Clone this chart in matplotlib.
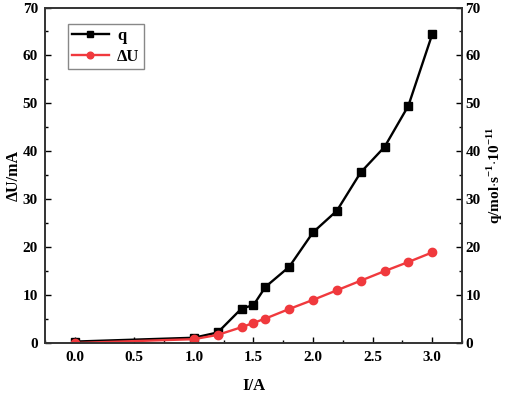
import matplotlib
matplotlib.use("Agg")
import matplotlib.pyplot as plt
from matplotlib.ticker import MultipleLocator, FormatStrFormatter

plt.rcParams['font.family'] = ['Liberation Serif', 'DejaVu Serif']
plt.rcParams['font.weight'] = 'bold'
plt.rcParams['mathtext.fontset'] = 'custom'
plt.rcParams['mathtext.rm'] = 'Liberation Serif:bold'
plt.rcParams['mathtext.bf'] = 'Liberation Serif:bold'

current = [0.0, 1.0, 1.2, 1.4, 1.5, 1.6, 1.8, 2.0, 2.2, 2.4, 2.6, 2.8, 3.0]
q_vals = [0.3, 1.1, 2.2, 7.2, 7.9, 11.7, 15.9, 23.1, 27.6, 35.6, 40.9, 49.5, 64.4]
du_vals = [0.0, 0.8, 1.7, 3.3, 4.2, 5.1, 7.1, 9.0, 11.0, 13.0, 15.0, 16.9, 18.9]

fig = plt.figure(figsize=(5.12, 3.93), dpi=100)
ax = fig.add_axes([0.0879, 0.1272, 0.8144, 0.8537])

ax.plot(current, q_vals, color='black', marker='s', markersize=5.5, linewidth=1.7, label='q')
ax.plot(current, du_vals, color='#F0393D', marker='o', markersize=6, linewidth=1.7, label='ΔU')

ax.set_xlim(-0.25, 3.25)
ax.set_ylim(0, 70)
ax.xaxis.set_major_locator(MultipleLocator(0.5))
ax.xaxis.set_minor_locator(MultipleLocator(0.25))
ax.yaxis.set_major_locator(MultipleLocator(10))
ax.yaxis.set_minor_locator(MultipleLocator(5))
ax.xaxis.set_major_formatter(FormatStrFormatter('%.1f'))
ax.tick_params(which='both', direction='in', labelsize=11)
ax.tick_params(which='major', length=4, width=1)
ax.tick_params(which='minor', length=2.5, width=1)
ax.tick_params(axis='x', which='major', pad=6)
ax.tick_params(axis='y', which='major', pad=5)
for s in ax.spines.values():
    s.set_linewidth(1.2)
    s.set_color('#333333')

ax.set_xlabel('I/A', fontsize=12, fontweight='bold', labelpad=10)
ax.set_ylabel('ΔU/mA', fontsize=11.5, fontweight='bold', labelpad=1)

ax2 = ax.twinx()
ax2.set_ylim(0, 70)
ax2.yaxis.set_major_locator(MultipleLocator(10))
ax2.yaxis.set_minor_locator(MultipleLocator(5))
ax2.tick_params(which='both', direction='in', labelsize=11)
ax2.tick_params(which='major', length=4, width=1, pad=2.5)
ax2.tick_params(which='minor', length=2.5, width=1)
for s in ax2.spines.values():
    s.set_linewidth(1.2)
    s.set_color('#333333')
ax2.set_ylabel(r'q/mol$\cdot$s$^{-1}$$\cdot$10$^{-11}$', fontsize=11, fontweight='bold',
               rotation=90, labelpad=3)

for lab in ax.get_xticklabels() + ax.get_yticklabels() + ax2.get_yticklabels():
    lab.set_fontweight('bold')

leg = ax.legend(loc='upper left', bbox_to_anchor=(0.055, 0.951), borderaxespad=0,
                fontsize=12, handlelength=2.2, handletextpad=0.5, markerscale=0.8,
                fancybox=False, framealpha=1, edgecolor='#888888',
                borderpad=0.25, labelspacing=0.3)
leg.get_frame().set_linewidth(1)

fig.savefig('out.png', dpi=100)
